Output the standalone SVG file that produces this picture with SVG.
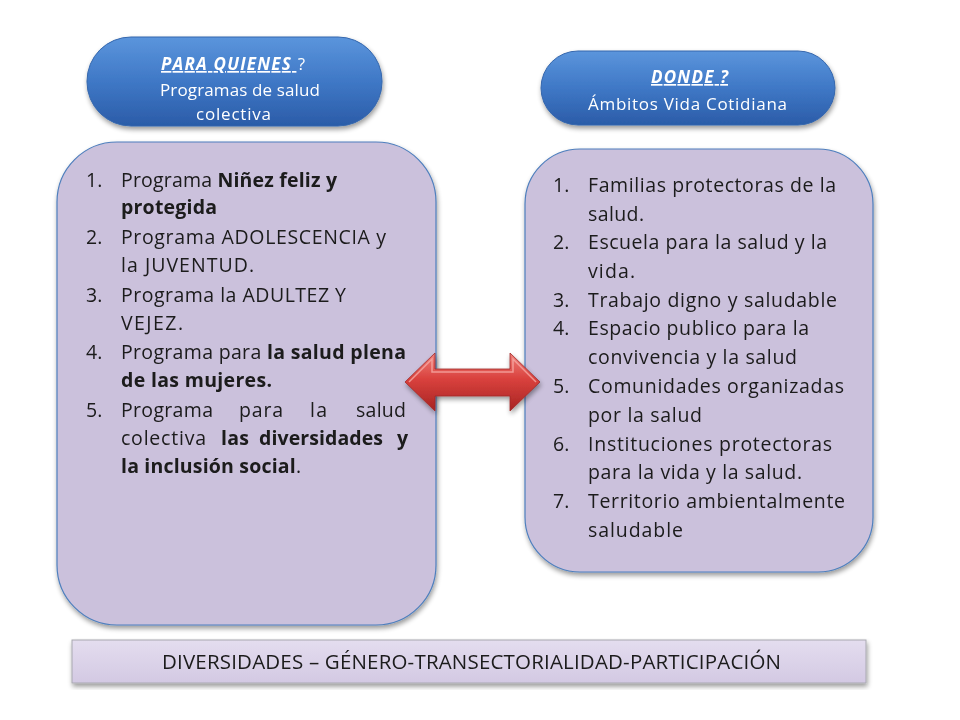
<svg xmlns="http://www.w3.org/2000/svg" width="960" height="720" viewBox="0 0 960 720">
<defs>
<linearGradient id="blue" x1="0" y1="0" x2="0" y2="1">
<stop offset="0" stop-color="#5b95dc"/>
<stop offset="0.5" stop-color="#3f78c6"/>
<stop offset="1" stop-color="#2b5ca8"/>
</linearGradient>
<linearGradient id="bar" x1="0" y1="0" x2="0" y2="1">
<stop offset="0" stop-color="#e4ddef"/>
<stop offset="1" stop-color="#d3c9e3"/>
</linearGradient>
<linearGradient id="red" x1="0" y1="0" x2="0" y2="1">
<stop offset="0" stop-color="#f0807a"/>
<stop offset="0.45" stop-color="#d9413d"/>
<stop offset="1" stop-color="#a72422"/>
</linearGradient>
<filter id="sh" x="-10%" y="-10%" width="120%" height="125%">
<feGaussianBlur in="SourceAlpha" stdDeviation="2.5"/>
<feOffset dx="1" dy="3" result="b"/>
<feComponentTransfer><feFuncA type="linear" slope="0.4"/></feComponentTransfer>
<feMerge><feMergeNode/><feMergeNode in="SourceGraphic"/></feMerge>
</filter>
</defs>
<style>
.btn{fill:url(#blue);stroke:#3567ad;stroke-width:1}
.box{fill:#cbc1dc;stroke:#4f7fbd;stroke-width:1.2}
.bt{font-family:"Open Sans","Lato",sans-serif;font-size:17px;fill:#ffffff}
.t{font-family:"Open Sans","Lato",sans-serif;font-size:19.5px;fill:#1a1a1a}
.b{font-weight:bold}
.bar{fill:url(#bar);stroke:#a8a8b0;stroke-width:1}
.bart{font-family:"Open Sans","Lato",sans-serif;font-size:20.5px;fill:#1a1a1a}
</style>
<rect width="960" height="720" fill="#ffffff"/>

<g id="node-paraquienes" filter="url(#sh)">
<rect class="btn" x="87" y="37" width="295" height="89" rx="44" ry="44"/>
<text class="bt" x="161" y="70" textLength="144" lengthAdjust="spacing"><tspan font-style="italic" font-weight="bold" text-decoration="underline">PARA QUIENES </tspan>?</text>
<text class="bt" x="160" y="96" textLength="160" lengthAdjust="spacing">Programas  de salud</text>
<text class="bt" x="196" y="120" textLength="75" lengthAdjust="spacing">colectiva</text>
</g>

<g id="node-donde" filter="url(#sh)">
<rect class="btn" x="541" y="51" width="294" height="74" rx="37" ry="37"/>
<text class="bt" x="651" y="83" textLength="77" lengthAdjust="spacing" font-style="italic" font-weight="bold" text-decoration="underline">DONDE ?</text>
<text class="bt" x="588" y="110" textLength="199" lengthAdjust="spacing">Ámbitos Vida Cotidiana</text>
</g>

<g id="node-programas" filter="url(#sh)">
<rect class="box" x="57" y="142" width="379" height="483" rx="60" ry="60"/>
<text class="t" x="86" y="187">1.</text>
<text class="t" x="121" y="187" textLength="216" lengthAdjust="spacing">Programa <tspan class="b">Niñez feliz y</tspan></text>
<text class="t b" x="121" y="214" textLength="96" lengthAdjust="spacing">protegida</text>
<text class="t" x="86" y="244">2.</text>
<text class="t" x="121" y="244" textLength="265" lengthAdjust="spacing">Programa ADOLESCENCIA y</text>
<text class="t" x="121" y="272" textLength="133" lengthAdjust="spacing">la JUVENTUD.</text>
<text class="t" x="86" y="302">3.</text>
<text class="t" x="121" y="302" textLength="225" lengthAdjust="spacing">Programa la ADULTEZ Y</text>
<text class="t" x="121" y="330" textLength="62" lengthAdjust="spacing">VEJEZ.</text>
<text class="t" x="86" y="359">4.</text>
<text class="t" x="121" y="359" textLength="285" lengthAdjust="spacing">Programa para <tspan class="b">la salud plena</tspan></text>
<text class="t b" x="121" y="387" textLength="151" lengthAdjust="spacing">de las mujeres.</text>
<text class="t" x="86" y="417">5.</text>
<text class="t" x="121" y="417" textLength="92" lengthAdjust="spacing">Programa</text>
<text class="t" x="239" y="417" textLength="44" lengthAdjust="spacing">para</text>
<text class="t" x="310" y="417" textLength="17" lengthAdjust="spacing">la</text>
<text class="t" x="356" y="417" textLength="50" lengthAdjust="spacing">salud</text>
<text class="t" x="121" y="445" textLength="85" lengthAdjust="spacing">colectiva</text>
<text class="t b" x="221" y="445" textLength="28" lengthAdjust="spacing">las</text>
<text class="t b" x="259" y="445" textLength="124" lengthAdjust="spacing">diversidades</text>
<text class="t b" x="397" y="445" textLength="9" lengthAdjust="spacing">y</text>
<text class="t" x="121" y="473" textLength="180" lengthAdjust="spacing"><tspan class="b">la inclusión social</tspan>.</text>
</g>

<g id="node-ambitos" filter="url(#sh)">
<rect class="box" x="525" y="149" width="348" height="423" rx="55" ry="55"/>
<text class="t" x="553" y="192">1.</text>
<text class="t" x="588" y="192" textLength="248" lengthAdjust="spacing">Familias protectoras de la</text>
<text class="t" x="588" y="221" textLength="56" lengthAdjust="spacing">salud.</text>
<text class="t" x="553" y="249">2.</text>
<text class="t" x="588" y="249" textLength="239" lengthAdjust="spacing">Escuela para la salud y la</text>
<text class="t" x="588" y="278" textLength="47" lengthAdjust="spacing">vida.</text>
<text class="t" x="553" y="307">3.</text>
<text class="t" x="588" y="307" textLength="249" lengthAdjust="spacing">Trabajo digno y saludable</text>
<text class="t" x="553" y="335">4.</text>
<text class="t" x="588" y="335" textLength="221" lengthAdjust="spacing">Espacio publico para la</text>
<text class="t" x="588" y="364" textLength="209" lengthAdjust="spacing">convivencia y la salud</text>
<text class="t" x="553" y="393">5.</text>
<text class="t" x="588" y="393" textLength="256" lengthAdjust="spacing">Comunidades organizadas</text>
<text class="t" x="588" y="422" textLength="114" lengthAdjust="spacing">por la salud</text>
<text class="t" x="553" y="451">6.</text>
<text class="t" x="588" y="451" textLength="244" lengthAdjust="spacing">Instituciones protectoras</text>
<text class="t" x="588" y="479" textLength="214" lengthAdjust="spacing">para la vida y la salud.</text>
<text class="t" x="553" y="508">7.</text>
<text class="t" x="588" y="508" textLength="257" lengthAdjust="spacing">Territorio ambientalmente</text>
<text class="t" x="588" y="537" textLength="95" lengthAdjust="spacing">saludable</text>
</g>

<g id="connectors">
<g id="double-arrow" filter="url(#sh)">
<path d="M405,382 L435,353 L435,369 L510,369 L510,353 L540,382 L510,411 L510,396 L435,396 L435,411 Z" fill="url(#red)" stroke="#a02a28" stroke-width="0.8"/>
<path d="M409,382 L432,359 L432,372 L513,372 L513,359 L536,382" fill="none" stroke="#f6aaa5" stroke-width="1.5" opacity="0.8"/>
</g>
</g>

<g id="node-bar" filter="url(#sh)">
<rect class="bar" x="72" y="640" width="794" height="43"/>
<text class="bart" x="162" y="669" textLength="619" lengthAdjust="spacing">DIVERSIDADES – GÉNERO-TRANSECTORIALIDAD-PARTICIPACIÓN</text>
</g>
</svg>
